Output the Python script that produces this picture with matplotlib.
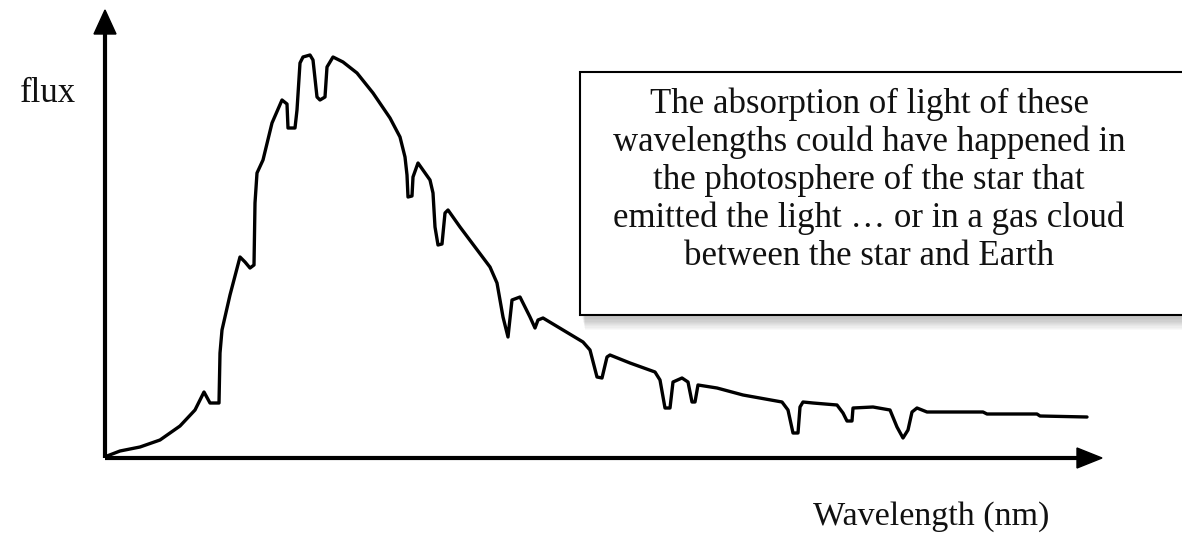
import matplotlib
matplotlib.use("Agg")
import matplotlib.pyplot as plt
from matplotlib.patches import Polygon, Rectangle

# ---- data (arbitrary units) ----
wavelength = [2, 15, 35, 55, 75, 90, 99, 105, 114, 115, 117, 125, 135, 140, 145, 149,
              150, 152, 158, 167, 177, 182, 183, 190, 192, 195, 198, 205, 208, 212,
              215, 220, 222, 228, 238, 252, 268, 285, 295, 300, 302, 303, 307, 308,
              313, 325, 328, 330, 333, 337, 340, 343, 355, 370, 385, 392, 398, 403,
              407, 415, 425, 430, 433, 438, 458, 478, 485, 492, 497, 502, 505, 525,
              550, 555, 560, 565, 568, 577, 583, 587, 590, 593, 612, 638, 677, 683,
              688, 693, 695, 698, 708, 732, 738, 742, 747, 748, 768, 785, 792, 798,
              803, 807, 812, 822, 878, 882, 932, 935, 982]
flux = [2, 7, 11, 18, 32, 48, 66, 55, 55, 105, 128, 163, 201, 196, 190, 193,
        255, 285, 298, 335, 358, 354, 330, 330, 348, 395, 401, 403, 398, 361,
        358, 361, 391, 401, 396, 385, 365, 340, 321, 301, 283, 261, 262, 281,
        295, 278, 265, 231, 213, 214, 245, 248, 231, 211, 191, 175, 141, 121,
        158, 161, 141, 130, 138, 140, 128, 116, 108, 81, 80, 101, 103, 95,
        86, 78, 50, 50, 76, 80, 76, 56, 56, 73, 70, 63, 56, 48,
        25, 25, 51, 56, 55, 53, 45, 37, 37, 50, 51, 48, 31, 20,
        28, 46, 50, 46, 46, 44, 44, 42, 41]

flux_label = "flux"
x_label = "Wavelength (nm)"
note_lines = ["The absorption of light of these",
              "wavelengths could have happened in",
              "the photosphere of the star that",
              "emitted the light \u2026 or in a gas cloud",
              "between the star and Earth"]

plt.rcParams['font.family'] = ['Liberation Serif', 'DejaVu Serif']

W, H = 1182, 538
fig = plt.figure(figsize=(W / 100, H / 100), dpi=100)
fig.patch.set_facecolor('white')

# overlay axes in pixel coordinates for annotation layout
ov = fig.add_axes([0, 0, 1, 1])
ov.set_xlim(0, W)
ov.set_ylim(H, 0)
ov.axis('off')

# main axes: origin of data at pixel (105, 458)
ax = fig.add_axes([0, 0, 1, 1])
ax.set_xlim(-105, W - 105)
ax.set_ylim(458 - H, 458)
ax.axis('off')
ax.patch.set_alpha(0)

# axes arrows
ax.plot([0, 0], [0, 428], color='black', lw=3.0, solid_capstyle='butt', zorder=3)
ax.add_patch(Polygon([[-11, 424], [11, 424], [0, 448]], closed=True, color='black', zorder=3))
ax.plot([0, 975], [0, 0], color='black', lw=3.0, solid_capstyle='butt', zorder=3)
ax.add_patch(Polygon([[972, -10], [972, 10], [997, 0]], closed=True, color='black', zorder=3))

# spectrum
ax.plot(wavelength, flux, color='black', lw=2.4, solid_joinstyle='round',
        solid_capstyle='round', zorder=4)

# labels
ov.text(48, 93, flux_label, fontsize=25, ha='center', va='center', color='#111111')
ov.text(931, 517, x_label, fontsize=24.5, ha='center', va='center', color='#111111')

# text box (clipped at right edge) with soft shadow
bx0, by0, bx1, by1 = 580, 72, 1200, 315
for i in range(10, 0, -1):
    ov.add_patch(Rectangle((bx0 + 2 + i * 0.3, by0 + 3 + i * 0.3),
                           bx1 - bx0, by1 - by0 + i * 0.9,
                           facecolor='black', edgecolor='none', alpha=0.025, zorder=5))
ov.add_patch(Rectangle((bx0, by0), bx1 - bx0, by1 - by0, facecolor='white',
                       edgecolor='black', lw=1.5, zorder=6))
for i, line in enumerate(note_lines):
    ov.text(869, 104 + i * 38.2, line, fontsize=25, ha='center', va='center',
            color='#111111', zorder=7)

fig.savefig('out.png', dpi=100, facecolor='white')
